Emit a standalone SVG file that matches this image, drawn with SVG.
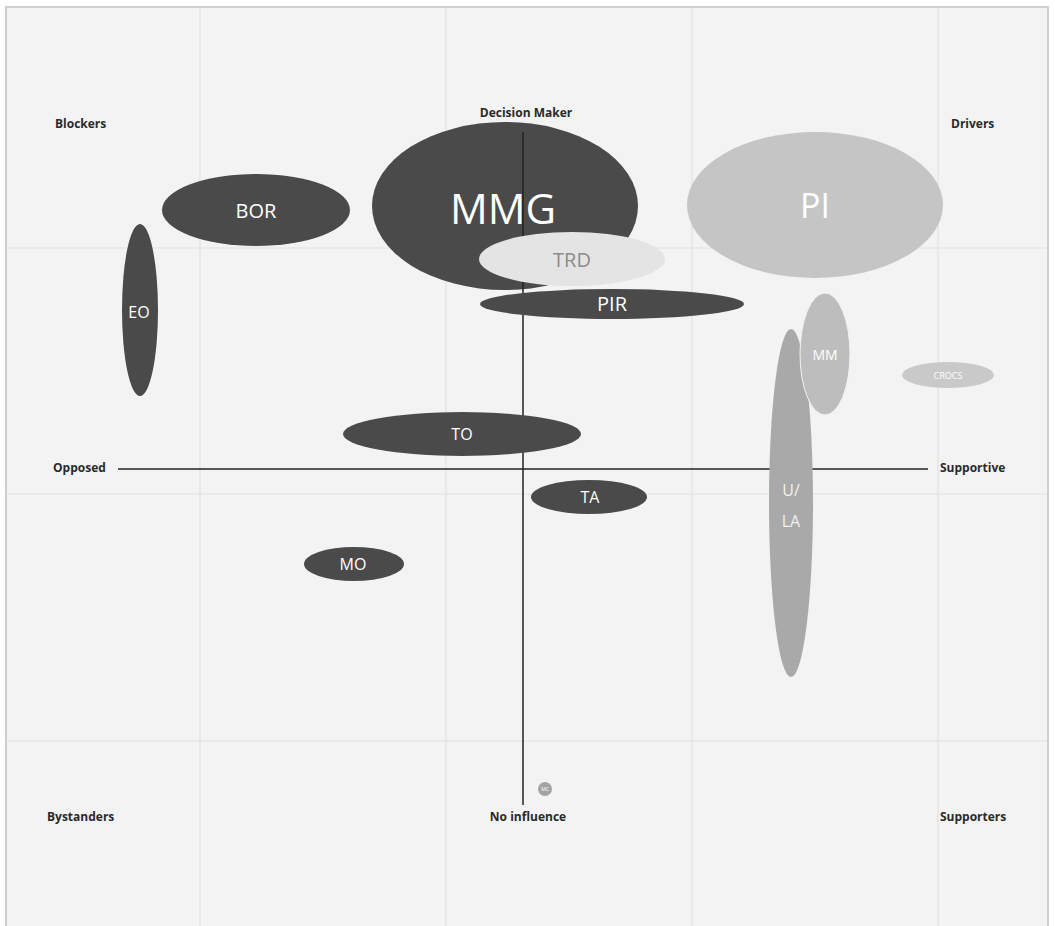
<svg xmlns="http://www.w3.org/2000/svg" width="1055" height="926" viewBox="0 0 1055 926">
<defs>
<style>
.lbl{font-family:"Open Sans","Liberation Sans",sans-serif;font-weight:bold;font-size:12px;fill:#2a2a2a}
.nt{font-family:"Open Sans","Liberation Sans",sans-serif;fill:#fff;text-anchor:middle}
.dark{fill:#4a4a4a}
.grid{stroke:#e2e2e2;stroke-width:1.2}
.axis{stroke:#222;stroke-width:1.5}
</style>
</defs>
<rect x="0" y="0" width="1055" height="926" fill="#ffffff"/>
<rect x="6" y="7" width="1042" height="925" fill="#f3f3f3" stroke="#cfcfcf" stroke-width="2"/>
<g id="grid">
<line class="grid" x1="200" y1="8" x2="200" y2="926"/>
<line class="grid" x1="446" y1="8" x2="446" y2="926"/>
<line class="grid" x1="692" y1="8" x2="692" y2="926"/>
<line class="grid" x1="938" y1="8" x2="938" y2="926"/>
<line class="grid" x1="7" y1="248" x2="1047" y2="248"/>
<line class="grid" x1="7" y1="494" x2="1047" y2="494"/>
<line class="grid" x1="7" y1="741" x2="1047" y2="741"/>
</g>
<g id="labels">
<text class="lbl" x="55" y="128">Blockers</text>
<text class="lbl" x="526" y="117" text-anchor="middle">Decision Maker</text>
<text class="lbl" x="951" y="128">Drivers</text>
<text class="lbl" x="53" y="472">Opposed</text>
<text class="lbl" x="940" y="472">Supportive</text>
<text class="lbl" x="47" y="821">Bystanders</text>
<text class="lbl" x="528" y="821" text-anchor="middle">No influence</text>
<text class="lbl" x="940" y="821">Supporters</text>
</g>
<g id="node-MMG">
<ellipse class="dark" cx="505" cy="206" rx="133" ry="84"/>
<text class="nt" x="503" y="224" font-size="42">MMG</text>
</g>
<g id="connectors">
<line class="axis" x1="523" y1="132" x2="523" y2="805"/>
<line class="axis" x1="118" y1="469" x2="928" y2="469"/>
</g>
<g id="node-BOR">
<ellipse class="dark" cx="256" cy="210" rx="94" ry="36"/>
<text class="nt" x="256" y="218" font-size="20">BOR</text>
</g>
<g id="node-EO">
<ellipse class="dark" cx="140" cy="310" rx="18" ry="86"/>
<text class="nt" x="139" y="318" font-size="16">EO</text>
</g>
<g id="node-TRD">
<ellipse cx="572" cy="259" rx="93" ry="27" fill="#e4e4e4"/>
<text class="nt" x="572" y="267" font-size="20" style="fill:#8c8c8c">TRD</text>
</g>
<g id="node-PIR">
<ellipse class="dark" cx="612" cy="304" rx="132" ry="15"/>
<text class="nt" x="612" y="311" font-size="20">PIR</text>
</g>
<g id="node-PI">
<ellipse cx="815" cy="205" rx="128" ry="73" fill="#c5c5c5"/>
<text class="nt" x="815" y="218" font-size="34">PI</text>
</g>
<g id="node-ULA">
<ellipse cx="791" cy="503" rx="22" ry="174" fill="#a9a9a9"/>
<text class="nt" x="791" y="496" font-size="16" style="fill:#f0f0f0">U/</text>
<text class="nt" x="791" y="527" font-size="16" style="fill:#f0f0f0">LA</text>
</g>
<g id="node-MM">
<ellipse cx="825" cy="354" rx="25" ry="61" fill="#bdbdbd" stroke="#f3f3f3" stroke-width="1"/>
<text class="nt" x="825" y="360" font-size="14">MM</text>
</g>
<g id="node-CROCS">
<ellipse cx="948" cy="375" rx="46" ry="13" fill="#c9c9c9"/>
<text class="nt" x="948" y="379" font-size="9">CROCS</text>
</g>
<g id="node-TO">
<ellipse class="dark" cx="462" cy="434" rx="119" ry="22"/>
<text class="nt" x="462" y="440" font-size="16">TO</text>
</g>
<g id="node-TA">
<ellipse class="dark" cx="589" cy="497" rx="58" ry="17"/>
<text class="nt" x="590" y="503" font-size="16">TA</text>
</g>
<g id="node-MO">
<ellipse class="dark" cx="354" cy="564" rx="50" ry="17"/>
<text class="nt" x="353" y="570" font-size="16">MO</text>
</g>
<g id="node-MC">
<circle cx="545" cy="789" r="7" fill="#a3a3a3"/>
<text class="nt" x="545" y="791" font-size="5">MC</text>
</g>
</svg>
